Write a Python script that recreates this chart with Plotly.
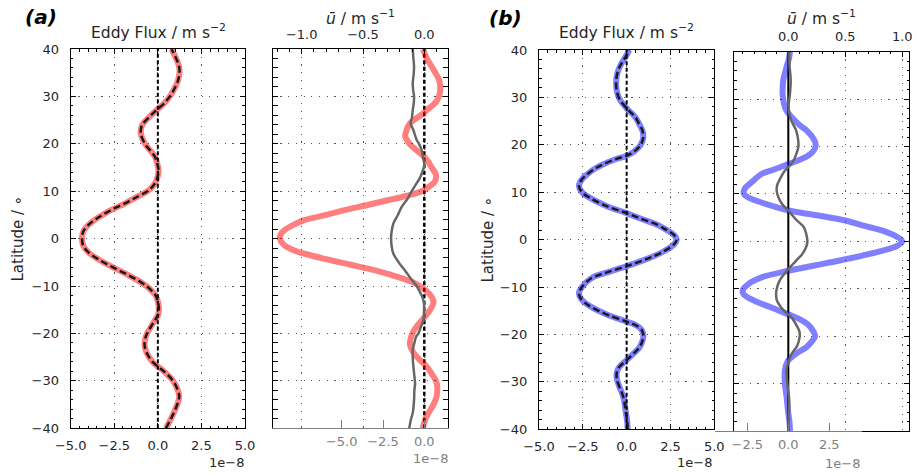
import plotly.graph_objects as go

W, H = 917, 476

# ---------------- data ----------------
# (a) eddy flux (x 1e-8 m s^-2) vs latitude
lat_a_flux = [-40, -38, -36, -34, -33, -32, -30, -28, -26, -24, -22.5, -21, -20, -18, -16, -15, -14, -13,
              -12, -11, -10, -9, -7.5, -6, -4.5, -3, -1.5, 0, 1.5, 3, 4.5, 6, 7.5, 9, 10, 11, 12.3, 14.4,
              16, 17.3, 18.5, 20, 22, 23.5, 24.3, 26, 27.1, 28.5, 30, 32, 33.4, 35, 36.3, 38, 40]
a_flux = [0.46, 0.75, 1.0, 1.2, 1.22, 1.15, 0.88, 0.35, -0.3, -0.65, -0.76, -0.72, -0.62, -0.3, 0.02, 0.06,
          0.04, -0.02, -0.12, -0.35, -0.65, -1.05, -1.8, -2.6, -3.35, -3.95, -4.28, -4.35, -4.28, -3.95,
          -3.4, -2.7, -1.85, -1.1, -0.6, -0.3, -0.08, 0.04, -0.05, -0.17, -0.42, -0.74, -0.97, -0.95,
          -0.84, -0.4, -0.08, 0.35, 0.69, 1.0, 1.16, 1.24, 1.22, 1.05, 0.78]

# (a) zonal-mean wind u (m/s)
lat_a_u = [-40, -38, -36.8, -35, -33.3, -31, -30, -28.5, -27, -25.5, -24.5, -23, -22, -20.5, -19, -17.5,
           -16, -14.5, -13.5, -12.5, -11.5, -10.5, -9.5, -8.8, -7.5, -6.7, -5.5, -4.6, -3.5, -2.5, -1.2,
           0, 1, 1.8, 3, 3.9, 5, 6, 7, 8.1, 9, 10, 11, 12, 13.5, 15, 16.3, 17.5, 19, 20, 21.5, 22.5,
           24.3, 26, 27.1, 29, 30.5, 32, 33.5, 35, 36.3, 38, 40]
a_u = [-0.014, 0.01, 0.033, 0.075, 0.10, 0.105, 0.095, 0.06, 0.02, -0.04, -0.075, -0.11, -0.117, -0.105,
       -0.075, -0.03, 0.02, 0.06, 0.075, 0.065, 0.035, -0.01, -0.07, -0.13, -0.29, -0.40, -0.6, -0.755,
       -0.93, -1.06, -1.15, -1.177, -1.17, -1.14, -1.06, -0.98, -0.8, -0.65, -0.48, -0.3, -0.15, -0.02,
       0.04, 0.085, 0.095, 0.06, 0.03, -0.01, -0.08, -0.12, -0.155, -0.15, -0.117, -0.03, 0.02, 0.1,
       0.125, 0.13, 0.12, 0.09, 0.06, 0.02, -0.01]

# (a) grey eddy flux (x 1e-8)
lat_a_grey = [-40, -38, -36.8, -34, -32, -30.5, -29, -27, -25, -23.4, -22, -20.7, -20, -18.5, -17.1,
              -15.5, -13.7, -12.5, -11, -10, -8.5, -6.7, -5, -3.2, -1.5, 0, 1.5, 3.2, 5, 6.7, 8.5, 10,
              11.5, 12.7, 13.7, 15, 15.8, 17, 18.7, 20, 20.8, 22.9, 24.3, 25.5, 27.1, 28.5, 30, 31.5,
              32.8, 34.5, 36.3, 38, 40]
a_grey = [-0.91, -0.8, -0.70, -0.62, -0.6, -0.56, -0.6, -0.66, -0.7, -0.70, -0.6, -0.5, -0.36, -0.2,
          -0.05, -0.02, -0.02, -0.1, -0.3, -0.46, -0.8, -1.17, -1.55, -1.87, -1.98, -2.01, -1.98, -1.87,
          -1.6, -1.37, -1.0, -0.76, -0.5, -0.28, -0.16, -0.03, 0.0, -0.08, -0.16, -0.32, -0.46, -0.66,
          -0.83, -0.75, -0.70, -0.64, -0.62, -0.68, -0.70, -0.65, -0.62, -0.66, -0.70]

# (b) eddy flux (x 1e-8)
lat_b_flux = [-40, -38, -36.6, -35, -33.8, -32, -31, -29.5, -28.2, -27, -25.4, -24, -22.6, -21, -20, -19,
              -18, -17.3, -16, -15, -13.8, -12.5, -11.3, -10, -8.1, -7, -5.6, -4, -2.5, -1, 0, 1, 2,
              3.2, 4.5, 5.6, 7, 8.8, 10, 11.3, 12.5, 13.7, 15, 15.9, 17, 17.7, 18.5, 20, 21.5, 23,
              24.5, 25.9, 27.3, 28.7, 30, 31.5, 33, 34.4, 36, 37.2, 38.5, 40]
b_flux = [0.06, 0.02, -0.04, -0.1, -0.15, -0.3, -0.42, -0.55, -0.57, -0.45, 0.0, 0.4, 0.75, 0.93, 0.95,
          0.85, 0.5, 0.0, -1.0, -1.6, -2.2, -2.6, -2.72, -2.55, -2.0, -1.2, 0.0, 1.2, 2.1, 2.7, 2.85,
          2.7, 2.3, 1.71, 0.75, 0.0, -1.1, -2.09, -2.55, -2.72, -2.6, -2.28, -1.8, -1.33, -0.6, 0.0,
          0.4, 0.8, 0.95, 0.9, 0.7, 0.48, 0.1, -0.23, -0.45, -0.57, -0.6, -0.57, -0.45, -0.29, -0.07,
          0.15]

# (b) zonal-mean wind u (m/s)
lat_b_u = [-40, -38, -36.3, -34, -32.8, -30, -27.2, -25.5, -24.7, -23.5, -22.3, -21, -20, -19, -17.5,
           -16.3, -15.4, -14.2, -12.5, -11.2, -10.3, -9, -7.6, -6.2, -5, -4.1, -3, -2, -1, 0, 1, 2.3,
           3.3, 4.4, 5.5, 6.5, 7.3, 8.2, 9, 10, 11.2, 12.5, 14.2, 15.2, 16.3, 17.2, 18.1, 19.2, 20.5,
           21.7, 23.4, 24.5, 25.8, 27, 28.3, 30, 31.1, 33, 34, 36.8, 38.5, 40]
b_u = [0.015, 0.01, 0.0, -0.01, -0.015, -0.03, -0.03, -0.01, 0.015, 0.08, 0.16, 0.21, 0.235, 0.22,
       0.17, 0.09, 0.0, -0.12, -0.3, -0.39, -0.40, -0.35, -0.235, 0.0, 0.25, 0.44, 0.65, 0.82, 0.95,
       1.0, 0.95, 0.82, 0.66, 0.5, 0.25, 0.0, -0.12, -0.235, -0.33, -0.39, -0.38, -0.32, -0.235,
       -0.12, 0.0, 0.1, 0.176, 0.225, 0.24, 0.22, 0.16, 0.1, 0.044, 0.0, -0.03, -0.045, -0.05,
       -0.048, -0.044, -0.015, 0.005, 0.015]

# (b) grey eddy flux (x 1e-8)
lat_b_grey = [-40, -37, -33.5, -30, -27.2, -25.5, -23.7, -22, -20, -19, -18, -16.1, -15, -14, -12.4,
              -11.1, -10, -8.3, -6.5, -5.5, -4, -2.7, -1.3, 0, 1.5, 3, 4.5, 6.5, 8, 9.3, 10.5, 11.8,
              13.2, 14.9, 16, 17, 18.5, 20, 21.5, 23.4, 25.8, 28.3, 31, 34, 37, 40]
b_grey = [0.0, 0.03, 0.06, -0.06, -0.11, 0.0, 0.21, 0.55, 0.70, 0.68, 0.55, 0.21, -0.15, -0.42, -0.7,
          -0.74, -0.7, -0.53, -0.15, 0.1, 0.5, 0.85, 1.08, 1.17, 1.1, 0.95, 0.5, 0.0, -0.4, -0.6,
          -0.7, -0.68, -0.5, -0.21, 0.1, 0.32, 0.5, 0.62, 0.6, 0.48, 0.15, 0.02, 0.1, 0.15, 0.08, 0.06]

ZERO_X = [0, 0]
ZERO_LAT = [-40, 40]

flux_ticks = [-5, -2.5, 0, 2.5, 5]
lat_ticks = [-40, -30, -20, -10, 0, 10, 20, 30, 40]

# ---------------- styles ----------------
TXT = '#262626'
GREY = '#808080'
GRID = dict(showgrid=True, gridcolor='#555555', gridwidth=1, griddash='1.2px,6.5px')
FONT = 'DejaVu Sans, Verdana, sans-serif'


def px_x(p):
    return p / W


def px_y(p):
    return 1 - p / H


P1X = [px_x(70.7), px_x(245.0)]
P2X = [px_x(272.7), px_x(447.7)]
P3X = [px_x(539.0), px_x(714.3)]
P4X = [px_x(734.3), px_x(909.3)]
PAY = [px_y(428.3), px_y(49.0)]
PBY = [px_y(429.3), px_y(50.0)]
PCY = [px_y(431.0), px_y(51.7)]

fig = go.Figure()

RED = 'rgba(255,0,0,0.5)'
BLUE = 'rgba(0,0,255,0.5)'
DARKGREY = '#666666'

# panel 1
fig.add_trace(go.Scatter(x=a_flux, y=lat_a_flux, mode='lines', line=dict(color=RED, width=6, shape='spline'),
                         xaxis='x', yaxis='y'))
fig.add_trace(go.Scatter(x=ZERO_X, y=ZERO_LAT, mode='lines', line=dict(color='black', width=2, dash='4px,2.5px'),
                         xaxis='x', yaxis='y'))
fig.add_trace(go.Scatter(x=a_flux, y=lat_a_flux, mode='lines',
                         line=dict(color='#1a1a1a', width=2.5, dash='7px,3.5px', shape='spline'),
                         xaxis='x', yaxis='y'))
# panel 2
fig.add_trace(go.Scatter(x=ZERO_X, y=ZERO_LAT, mode='lines', line=dict(color='black', width=2.5, dash='4px,2.5px'),
                         xaxis='x2', yaxis='y2'))
fig.add_trace(go.Scatter(x=a_u, y=lat_a_u, mode='lines', line=dict(color=RED, width=6, shape='spline'),
                         xaxis='x2', yaxis='y2'))
fig.add_trace(go.Scatter(x=a_grey, y=lat_a_grey, mode='lines', line=dict(color=DARKGREY, width=2.5, shape='spline'),
                         xaxis='x3', yaxis='y2'))
# panel 3
fig.add_trace(go.Scatter(x=b_flux, y=lat_b_flux, mode='lines', line=dict(color=BLUE, width=6, shape='spline'),
                         xaxis='x4', yaxis='y3'))
fig.add_trace(go.Scatter(x=ZERO_X, y=ZERO_LAT, mode='lines', line=dict(color='black', width=2, dash='4px,2.5px'),
                         xaxis='x4', yaxis='y3'))
fig.add_trace(go.Scatter(x=b_flux, y=lat_b_flux, mode='lines',
                         line=dict(color='#1a1a1a', width=2.5, dash='7px,3.5px', shape='spline'),
                         xaxis='x4', yaxis='y3'))
# panel 4
fig.add_trace(go.Scatter(x=ZERO_X, y=ZERO_LAT, mode='lines', line=dict(color='black', width=2),
                         xaxis='x5', yaxis='y4'))
fig.add_trace(go.Scatter(x=b_u, y=lat_b_u, mode='lines', line=dict(color=BLUE, width=6, shape='spline'),
                         xaxis='x5', yaxis='y4'))
fig.add_trace(go.Scatter(x=b_grey, y=lat_b_grey, mode='lines', line=dict(color=DARKGREY, width=2.5, shape='spline'),
                         xaxis='x6', yaxis='y5'))

tickfont = dict(family=FONT, size=13, color=TXT)
greyfont = dict(family=FONT, size=13, color=GREY)


def flux_x(domain, anchor):
    return dict(domain=domain, anchor=anchor, range=[-5, 5], tickmode='array', tickvals=flux_ticks,
                tickformat='.1f', ticks='inside', ticklen=5, tickcolor='black', showline=True,
                linecolor='black', linewidth=1.3, mirror='allticks', zeroline=False, tickfont=tickfont,
                ticklabelstandoff=5, automargin=False,
                minor=dict(tickmode='linear', tick0=0, dtick=0.5, ticks='inside', ticklen=2.5,
                           tickcolor='black', showgrid=False), **GRID)


def lat_y(domain, anchor, labels):
    return dict(domain=domain, anchor=anchor, range=[-40, 40], tickmode='array', tickvals=lat_ticks,
                ticks='inside', ticklen=5, tickcolor='black', showline=True, linecolor='black',
                linewidth=1.3, mirror='allticks', zeroline=False, showticklabels=labels, tickfont=tickfont,
                ticklabelstandoff=8, automargin=False,
                minor=dict(tickmode='linear', tick0=0, dtick=2, ticks='inside', ticklen=2.5,
                           tickcolor='black', showgrid=False), **GRID)


def u_x(domain, anchor, rng, vals):
    return dict(domain=domain, anchor=anchor, side='top', range=rng, tickmode='array', tickvals=vals,
                tickformat='.1f', ticks='inside', ticklen=5, tickcolor='black', showline=True,
                linecolor='black', linewidth=1.3, mirror=True, zeroline=False, tickfont=tickfont,
                ticklabelstandoff=4, automargin=False,
                minor=dict(tickmode='linear', tick0=0, dtick=0.1, ticks='inside', ticklen=2.5,
                           tickcolor='black', showgrid=False), **GRID)


def grey_x(anchor, rng, vals, **kw):
    d = dict(anchor=anchor, side='bottom', range=rng, tickmode='array', tickvals=vals, tickformat='.1f',
             ticks='inside', ticklen=8, tickcolor=GREY, tickwidth=1, showline=True, linecolor=GREY,
             linewidth=1.3, showgrid=False, zeroline=False, tickfont=greyfont, ticklabelstandoff=1,
             automargin=False)
    d.update(kw)
    return d


fig.update_layout(
    template='none',
    width=W, height=H, margin=dict(l=0, r=0, t=0, b=0, autoexpand=False), showlegend=False,
    paper_bgcolor='white', plot_bgcolor='rgba(0,0,0,0)',
    font=dict(family=FONT, color=TXT),
    xaxis=flux_x(P1X, 'y'),
    yaxis=lat_y(PAY, 'x', True),
    xaxis2=u_x(P2X, 'y2', [-1.2365, 0.1909], [-1.0, -0.5, 0.0]),
    xaxis3=grey_x('y2', [-9.177, 1.416], [-5, -2.5, 0], overlaying='x2'),
    yaxis2=lat_y(PAY, 'x2', False),
    xaxis4=flux_x(P3X, 'y3'),
    yaxis3=lat_y(PBY, 'x4', True),
    xaxis5=u_x(P4X, 'y4', [-0.4737, 1.0614], [0.0, 0.5, 1.0]),
    yaxis4=lat_y(PCY, 'x5', False),
    xaxis6=grey_x('y5', [-4.5, 4.5], [-2.5, 0, 2.5], domain=[px_x(714.5), px_x(862.0)]),
    yaxis5=dict(domain=PCY, anchor='x6', range=[-40, 40], visible=False, showgrid=False, zeroline=False,
                automargin=False),
)


def ann(text, x, y, size=14, color=TXT, xanchor='center', yanchor='middle', angle=0):
    fig.add_annotation(text=text, x=px_x(x), y=px_y(y), xref='paper', yref='paper', showarrow=False,
                       xanchor=xanchor, yanchor=yanchor, textangle=angle,
                       font=dict(family=FONT, size=size, color=color))


ann('<b><i>(a)</i></b>', 41, 17, size=20, color='black')
ann('<b><i>(b)</i></b>', 505, 18, size=20, color='black')
ann('Eddy Flux / m s<sup>−2</sup>', 158.3, 32, size=15.5)
ann('Eddy Flux / m s<sup>−2</sup>', 626, 32, size=15.5)
ann('<i>ū</i> / m s<sup>−1</sup>', 360, 18, size=15.5)
ann('<i>ū</i> / m s<sup>−1</sup>', 821, 18, size=15.5)
ann('1e−8', 245.5, 462, size=13, xanchor='right')
ann('1e−8', 450, 458, size=13, color=GREY, xanchor='right')
ann('1e−8', 714, 462, size=13, xanchor='right')
ann('1e−8', 862, 463, size=13, color=GREY, xanchor='right')
ann('Latitude / ∘', 17, 238.5, size=15, angle=-90)
ann('Latitude / ∘', 487, 239.5, size=15, angle=-90)

fig.write_html('out.html')
